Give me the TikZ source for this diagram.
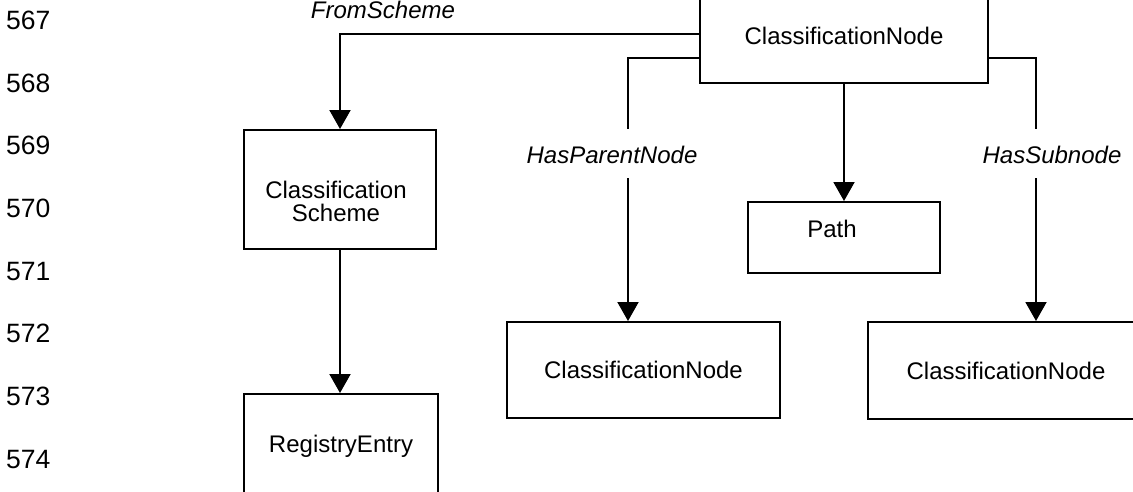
\documentclass[tikz,border=0pt]{standalone}
\usepackage{fontspec}
\setmainfont{Liberation Sans}
\usetikzlibrary{arrows.meta}
\begin{document}
\begin{tikzpicture}[x=1pt,y=-1pt,
  box/.style={draw, line width=2pt, inner sep=0pt, font=\fontsize{24}{24}\selectfont},
  txt/.style={inner sep=0pt, font=\fontsize{24}{23}\selectfont},
  lab/.style={inner sep=0pt, anchor=base, font=\fontsize{24}{24}\selectfont\itshape},
  num/.style={inner sep=0pt, anchor=base west, font=\fontsize{26.5}{26.5}\selectfont},
  conn/.style={line width=2pt},
  arr/.style={conn, -{Triangle[length=19pt,width=21pt]}}]
\useasboundingbox (0,0) rectangle (1133,491);
\clip (0,0) rectangle (1133,491);

% line numbers
\foreach \n [count=\i from 0] in {567,...,574}
  \node[num] (n\n) at (6,29.5+62.65*\i) {\n};

% boxes
\node[box, minimum width=288pt, minimum height=95pt] (cn) at (844,35.5) {ClassificationNode};
\node[box, minimum width=192pt, minimum height=119pt] (scheme) at (340,189.5) {};
\node[txt, align=center] (schemetxt) at (336,201) {Classification\\Scheme};
\node[box, minimum width=194pt, minimum height=104pt] (re) at (341,446) {RegistryEntry};
\node[box, minimum width=192pt, minimum height=71pt] (path) at (844,237.5) {};
\node[txt, anchor=base] (pathtxt) at (832,237) {Path};
\node[box, minimum width=273pt, minimum height=96pt] (cnl) at (643.5,370) {ClassificationNode};
\node[box, minimum width=276pt, minimum height=97pt] (cnr) at (1006,370.5) {ClassificationNode};

% labels
\node[lab] (fs) at (383,18) {FromScheme};
\node[lab] (hp) at (612,163) {HasParentNode};
\node[lab] (hs) at (1052,163) {HasSubnode};

% helper coordinates
\coordinate (fsY) at (0,34);
\coordinate (relY) at (0,58);
\coordinate (hpTop) at (628,129);
\coordinate (hpBot) at (628,178);
\coordinate (hsTop) at (1036,129);
\coordinate (hsBot) at (1036,178);

% connectors
\draw[arr] (cn.west |- fsY) -| (scheme.north);
\draw[conn] (cn.west |- relY) -| (hpTop);
\draw[arr] (hpBot) -- (hpBot |- cnl.north);
\draw[conn] (cn.east |- relY) -| (hsTop);
\draw[arr] (hsBot) -- (hsBot |- cnr.north);
\draw[arr] (cn.south) -- (path.north);
\draw[arr] (scheme.south) -- (scheme.south |- re.north);
\end{tikzpicture}
\end{document}
